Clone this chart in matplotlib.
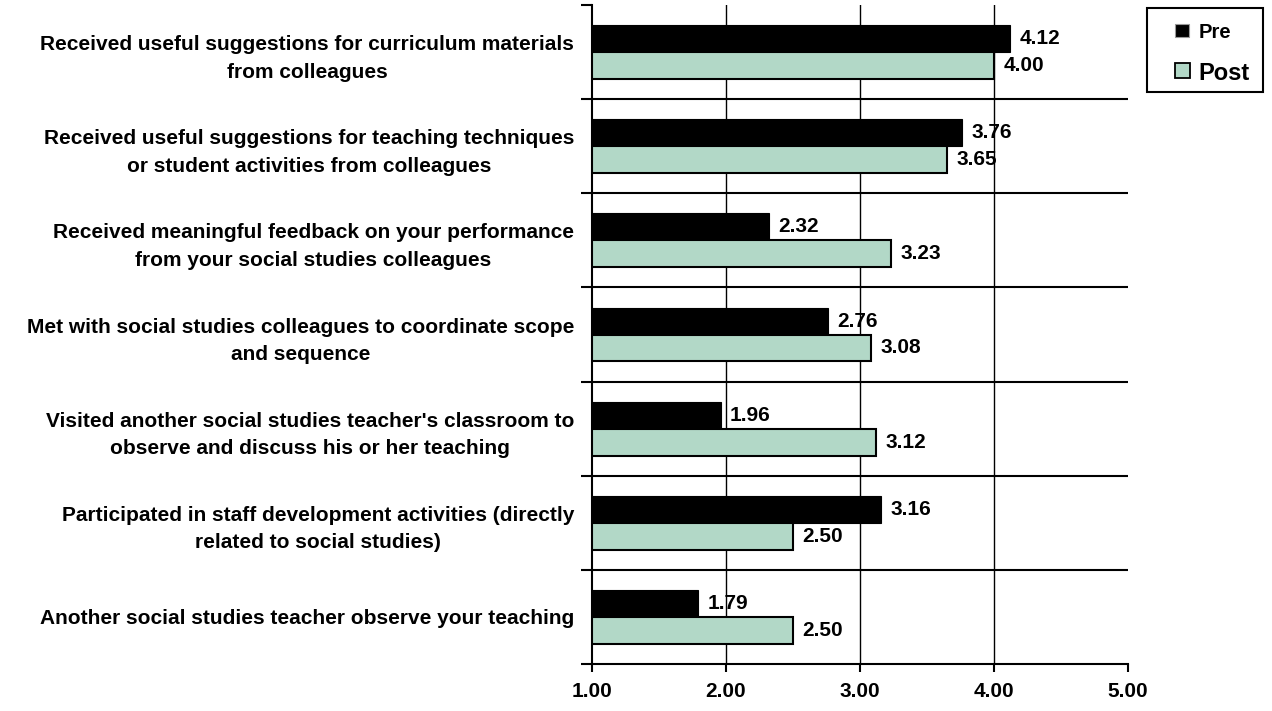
import matplotlib
matplotlib.use("Agg")
import matplotlib.pyplot as plt
from matplotlib.patches import Rectangle
import numpy as np

plt.rcParams['font.family'] = ['Liberation Sans', 'DejaVu Sans']
plt.rcParams['font.weight'] = 'bold'

categories = [
    "Received useful suggestions for curriculum materials\nfrom colleagues",
    "Received useful suggestions for teaching techniques\nor student activities from colleagues",
    "Received meaningful feedback on your performance\nfrom your social studies colleagues",
    "Met with social studies colleagues to coordinate scope\nand sequence",
    "Visited another social studies teacher's classroom to\nobserve and discuss his or her teaching",
    "Participated in staff development activities (directly\nrelated to social studies)",
    "Another social studies teacher observe your teaching",
]
pre = [4.12, 3.76, 2.32, 2.76, 1.96, 3.16, 1.79]
post = [4.00, 3.65, 3.23, 3.08, 3.12, 2.50, 2.50]
xticks = [1.0, 2.0, 3.0, 4.0, 5.0]
series_names = ["Pre", "Post"]

GREEN = '#b2d8c7'
FS = 15

W, H = 1272, 711
fig = plt.figure(figsize=(W/100, H/100), dpi=100)
ax = fig.add_axes([592/W, 1-664/H, (1128-592)/W, (664-5)/H])

y = np.arange(len(categories))
h = 0.286
ax.barh(y - h/2, [p - 1 for p in pre], left=1, height=h, color='black', edgecolor='black', linewidth=0.8, zorder=3)
ax.barh(y + h/2, [p - 1 for p in post], left=1, height=h, color=GREEN, edgecolor='black', linewidth=1.5, zorder=3)

for yi, v in zip(y, pre):
    ax.text(v + 0.07, yi - h/2, f"{v:.2f}", va='center', ha='left', fontsize=FS, fontweight='bold', zorder=4)
for yi, v in zip(y, post):
    ax.text(v + 0.07, yi + h/2, f"{v:.2f}", va='center', ha='left', fontsize=FS, fontweight='bold', zorder=4)

ax.set_xlim(1, 5)
ax.set_ylim(len(categories) - 0.5, -0.5)

ax.set_xticks(xticks)
ax.set_xticklabels([f"{t:.2f}" for t in xticks], fontsize=FS, fontweight='bold')
ax.tick_params(axis='x', length=6, width=1.5, pad=7, direction='out')

ax.set_yticks(y)
ax.set_yticklabels(categories, fontsize=FS, fontweight='bold')
for lab in ax.get_yticklabels():
    lab.set_multialignment('center')
    lab.set_linespacing(1.58)
ax.tick_params(axis='y', which='major', length=0, pad=13)
ax.set_yticks(np.arange(-0.5, len(categories) + 0.5, 1.0), minor=True)
ax.tick_params(axis='y', which='minor', length=8, width=1.5, direction='out')

for b in np.arange(0.5, len(categories) - 0.5, 1.0):
    ax.axhline(b, color='black', linewidth=1.5, zorder=1)
for xv in xticks[1:-1]:
    ax.axvline(xv, color='black', linewidth=1.0, zorder=1)

for s in ['top', 'right']:
    ax.spines[s].set_visible(False)
for s in ['left', 'bottom']:
    ax.spines[s].set_linewidth(1.5)

# legend drawn manually (pixel-placed box)
def fx(px):
    return px / W

def fy(py):
    return 1 - py / H

fig.patches.append(Rectangle((fx(1147), fy(92)), fx(1263) - fx(1147), fy(8) - fy(92),
                             transform=fig.transFigure, facecolor='white', edgecolor='black',
                             linewidth=1.5, zorder=5))
fig.patches.append(Rectangle((fx(1175), fy(37)), fx(14), 13/H,
                             transform=fig.transFigure, facecolor='black', edgecolor='#999999',
                             linewidth=0.8, zorder=6))
fig.patches.append(Rectangle((fx(1175), fy(78)), fx(15), 15/H,
                             transform=fig.transFigure, facecolor=GREEN, edgecolor='black',
                             linewidth=1.3, zorder=6))
fig.text(fx(1199), fy(32), series_names[0], fontsize=14.5, fontweight='bold', va='center', ha='left', zorder=7)
fig.text(fx(1198), fy(73), series_names[1], fontsize=17, fontweight='bold', va='center', ha='left', zorder=7)

fig.savefig("out.png", dpi=100)
